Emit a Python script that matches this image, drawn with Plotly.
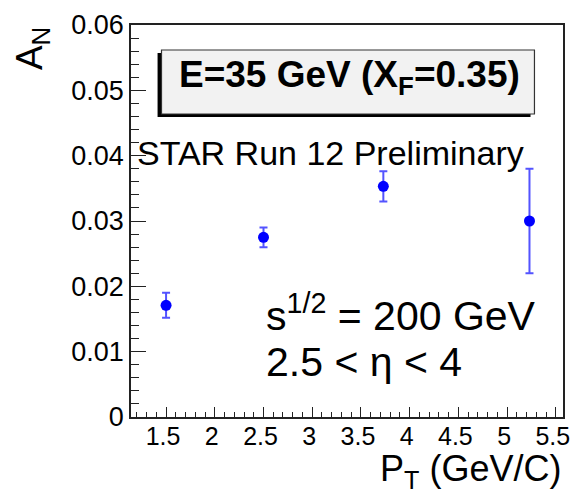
import plotly.graph_objects as go

# Transverse single-spin asymmetry vs pT
pt = [1.5, 2.5, 3.73, 5.23]
an = [0.0171, 0.0275, 0.0353, 0.0300]
an_err = [0.0019, 0.0015, 0.0023, 0.0080]

x_ticks = [1.5, 2, 2.5, 3, 3.5, 4, 4.5, 5, 5.5]
x_tick_text = ["1.5", "2", "2.5", "3", "3.5", "4", "4.5", "5", "5.5"]
y_ticks = [0, 0.01, 0.02, 0.03, 0.04, 0.05, 0.06]
y_tick_text = ["0", "0.01", "0.02", "0.03", "0.04", "0.05", "0.06"]

FONT = "Liberation Sans, Arial, sans-serif"
W, H = 578, 491
L, R, T, B = 131, 8, 25, 74
PW, PH = W - L - R, H - T - B


def px(x):
    return (x - L) / PW


def py(y):
    return (H - B - y) / PH


fig = go.Figure()
fig.add_trace(go.Scatter(
    x=pt, y=an, mode="markers",
    marker=dict(color="#0000ff", size=11, symbol="circle"),
    error_y=dict(type="data", array=an_err, visible=True,
                 color="rgba(40,40,255,0.8)", thickness=2, width=4),
    showlegend=False,
))

axis_common = dict(
    showline=True, linecolor="#222", linewidth=1.5, mirror=True,
    ticks="inside", tickcolor="#222", showgrid=False, zeroline=False,
    ticklabeloverflow="allow",
)

fig.update_xaxes(
    range=[1.14, 5.574], tickvals=x_ticks, ticktext=x_tick_text,
    ticklen=10, tickwidth=1.2, ticklabelshift=-3, ticklabelstandoff=-4,
    tickfont=dict(family=FONT, size=25, color="black"),
    minor=dict(dtick=0.1, tick0=0, ticklen=5, ticks="inside", tickcolor="#222", tickwidth=1.2),
    **axis_common,
)
fig.update_yaxes(
    range=[0, 0.06], tickvals=y_ticks, ticktext=y_tick_text,
    ticklen=15, tickwidth=1.2,
    tickfont=dict(family=FONT, size=27, color="black"),
    minor=dict(dtick=0.002, tick0=0, ticklen=8, ticks="inside", tickcolor="#222", tickwidth=1.2),
    **axis_common,
)

# Title box with drop shadow
fig.add_shape(type="rect", xref="paper", yref="paper",
              x0=px(158), x1=px(537), y0=py(117), y1=py(53),
              fillcolor="black", line=dict(width=0), layer="above")
fig.add_shape(type="rect", xref="paper", yref="paper",
              x0=px(162), x1=px(541), y0=py(114), y1=py(50),
              fillcolor="#f2f2f2", line=dict(color="#333", width=1.2), layer="above")

annotations = [
    dict(text="<b>E=35 GeV (X<sub>F</sub>=0.35)</b>", x=px(353), y=py(77),
         xanchor="center", yanchor="middle", font=dict(size=37)),
    dict(text="STAR Run 12 Preliminary", x=px(135), y=py(153),
         xanchor="left", yanchor="middle", font=dict(size=34)),
    dict(text="s<sup>1/2</sup> = 200 GeV", x=px(266), y=py(313),
         xanchor="left", yanchor="middle", font=dict(size=41)),
    dict(text="2.5 < η < 4", x=px(266), y=py(362),
         xanchor="left", yanchor="middle", font=dict(size=41)),
    dict(text="A<sub>N</sub>", x=px(30), y=1.0, textangle=-90,
         xanchor="center", yanchor="top", font=dict(size=37)),
    dict(text="P<sub>T</sub> (GeV/C)", x=1.0, y=py(471),
         xanchor="right", yanchor="middle", font=dict(size=36)),
]
for a in annotations:
    a.update(xref="paper", yref="paper", showarrow=False)
    a["font"].update(family=FONT, color="black")
    fig.add_annotation(**a)

fig.update_layout(
    width=W, height=H,
    margin=dict(l=L, r=R, t=T, b=B),
    paper_bgcolor="white", plot_bgcolor="white",
)

fig.write_html("out.html")
